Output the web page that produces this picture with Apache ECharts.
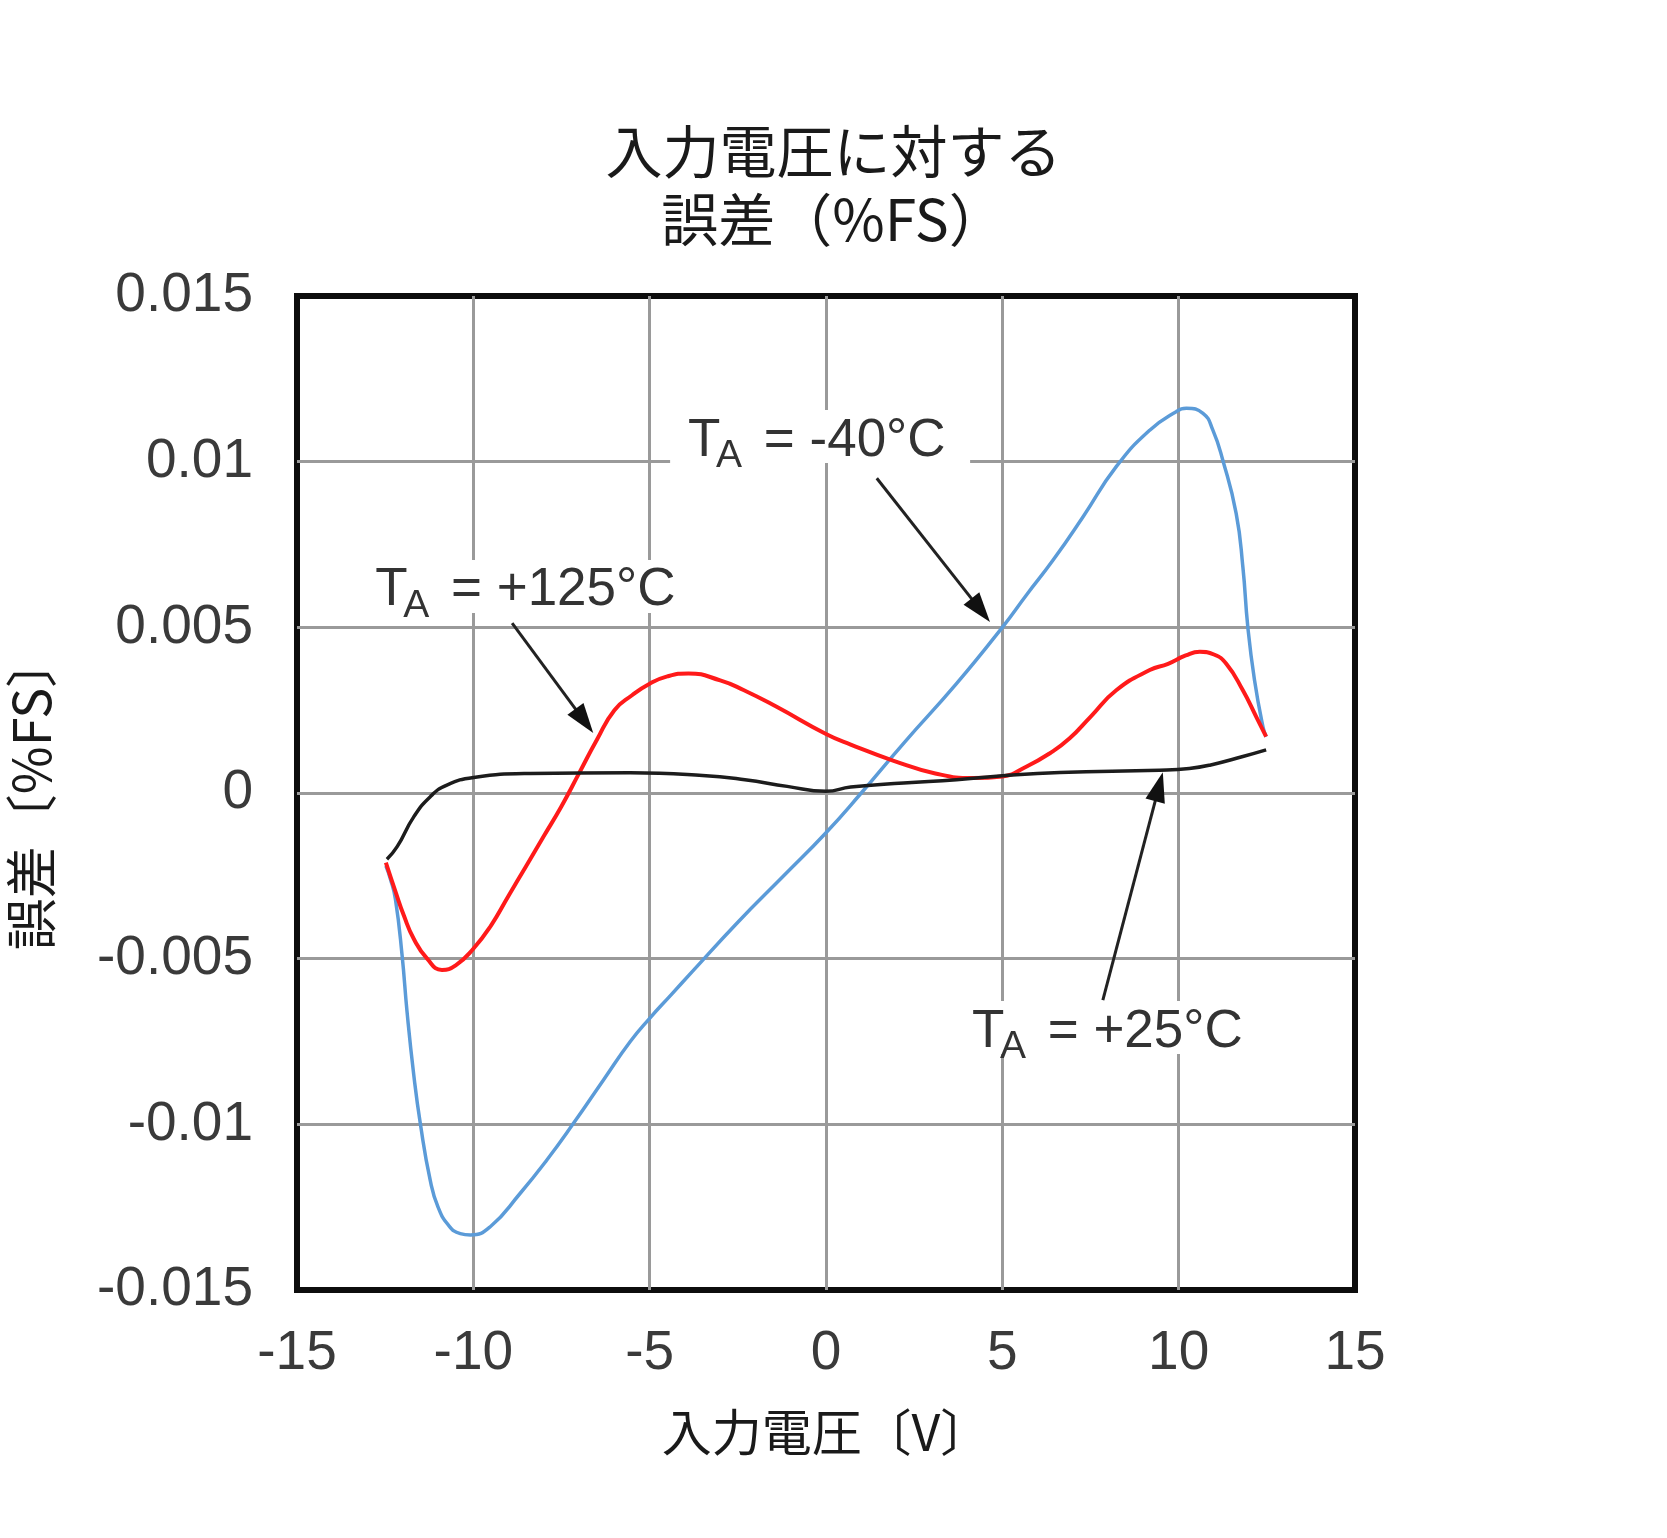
<!DOCTYPE html>
<html><head><meta charset="utf-8">
<script src="https://cdn.jsdelivr.net/npm/echarts@6/dist/echarts.min.js"></script>
<style>html,body{margin:0;padding:0;background:#fff}#c{width:1667px;height:1538px}</style>
</head><body><div id="c"></div>
<script>
// ---- data ----
const xTicks = [-15, -10, -5, 0, 5, 10, 15];
const yTicks = [-0.015, -0.01, -0.005, 0, 0.005, 0.01, 0.015];
const titleLines = ['入力電圧に対する', '誤差（%FS）'];
const xName = '入力電圧〔V〕';
const yName = '誤差〔%FS〕';

const ta_m40 = [
  [-12.48,-0.0022],[-12.35,-0.0026],[-12.21,-0.0032],[-12.02,-0.0049],[-11.88,-0.0066],
  [-11.69,-0.0085],[-11.5,-0.0100],[-11.22,-0.0117],[-11.0,-0.0125],[-10.7,-0.01305],
  [-10.37,-0.0133],[-10.08,-0.01334],[-9.52,-0.01309],[-8.67,-0.01208],[-7.91,-0.01107],
  [-7.16,-0.00997],[-6.31,-0.00866],[-5.55,-0.0075],[-5.0,-0.0068],[-4.4,-0.0061],
  [-3.8,-0.0054],[-2.5,-0.0039],[-1.2,-0.0025],[0,-0.0012],[1.0,0.0000],[2.2,0.0015],
  [3.7,0.0033],[5.0,0.0050],[5.7,0.0060],[6.44,0.00703],[7.29,0.00834],[8.23,0.00985],
  [9.18,0.01095],[9.93,0.01151],[10.22,0.01161],[10.69,0.01146],[10.97,0.01095],
  [11.25,0.01005],[11.63,0.00844],[11.82,0.00683],[11.96,0.00502],[12.15,0.00341],
  [12.39,0.0020],[12.48,0.0017]
];
const ta_125 = [
  [-12.48,-0.0021],[-12.2,-0.0030],[-11.97,-0.0037],[-11.69,-0.0044],[-11.31,-0.0050],
  [-10.89,-0.00534],[-10.5,-0.0052],[-10.0,-0.0047],[-9.5,-0.0040],[-9.0,-0.0031],
  [-8.5,-0.0022],[-8.0,-0.0013],[-7.5,-0.0004],[-7.0,0.0006],[-6.5,0.0016],[-6.0,0.0025],
  [-5.5,0.00295],[-5.0,0.0033],[-4.5,0.00352],[-3.9,0.00361],[-3.0,0.0034],[-2.34,0.00311],
  [-1.4,0.0026],[0,0.00178],[0.7,0.00146],[1.9,0.00098],[3.1,0.00059],[4.17,0.00045],
  [5.0,0.0005],[5.69,0.0008],[6.35,0.0012],[6.91,0.00165],[7.5,0.0023],[8.23,0.0031],
  [9.18,0.00371],[9.7,0.0039],[10.2,0.00415],[10.6,0.00426],[11.0,0.00418],[11.35,0.0039],
  [11.82,0.0031],[12.2,0.0023],[12.48,0.0017]
];
const ta_25 = [
  [-12.45,-0.0020],[-12.16,-0.00162],[-11.69,-0.00072],[-11.22,-0.00011],[-10.75,0.00024],
  [-9.99,0.00047],[-8.39,0.00059],[-5.55,0.00061],[-3.5,0.00053],[-2.3,0.0004],
  [-1.1,0.0002],[0,0.00005],[0.7,0.00018],[2.2,0.0003],[3.7,0.0004],[5.0,0.00052],
  [6.63,0.00062],[9.46,0.00069],[10.3,0.00074],[10.88,0.00084],[11.82,0.0011],[12.48,0.0013]
];
const annLabels = [' = -40°C', ' = +125°C', ' = +25°C'];
const annTextAt = [[-3.91, 0.01062], [-12.78, 0.0061], [4.14, -0.00721]];
const annArrowFrom = [[1.44, 0.0095], [-8.9, 0.00513], [7.85, -0.00625]];
const annArrowTo = [[4.65, 0.00516], [-6.6, 0.00181], [9.55, 0.00063]];

// ---- chart ----
const chart = echarts.init(document.getElementById('c'), null, {renderer: 'canvas'});
const tickFont = '"Liberation Sans", Arial, sans-serif';
const cjkFont = '"Noto Sans CJK JP", "Noto Sans", sans-serif';

const option = {
  animation: false,
  backgroundColor: '#ffffff',
  title: {
    text: titleLines.join('\n'),
    left: 'center',
    top: 112,
    textStyle: {fontFamily: cjkFont, fontSize: 57, fontWeight: 'normal', color: '#1a1a1a', lineHeight: 68}
  },
  grid: {left: 297, right: 312, top: 296, bottom: 248, containLabel: false, outerBoundsMode: 'none',
         show: true, borderColor: '#0d0d0d', borderWidth: 6, backgroundColor: 'transparent'},
  xAxis: {
    type: 'value', min: xTicks[0], max: xTicks[xTicks.length - 1], interval: 5,
    name: xName, nameLocation: 'middle', nameGap: 117,
    nameTextStyle: {fontFamily: cjkFont, fontSize: 50, color: '#1a1a1a'},
    axisLine: {show: false}, axisTick: {show: false},
    axisLabel: {fontFamily: tickFont, fontSize: 55, color: '#3a3a3a', margin: 36},
    splitLine: {show: true, showMinLine: false, showMaxLine: false, lineStyle: {color: '#9a9a9a', width: 3}}
  },
  yAxis: {
    type: 'value', min: yTicks[0], max: yTicks[yTicks.length - 1], interval: 0.005,
    name: yName, nameLocation: 'middle', nameGap: 240, nameRotate: 90,
    nameTextStyle: {fontFamily: cjkFont, fontSize: 52, color: '#1a1a1a'},
    axisLine: {show: false}, axisTick: {show: false},
    axisLabel: {fontFamily: tickFont, fontSize: 55, color: '#3a3a3a', margin: 44,
      formatter: v => String(+(+v).toFixed(3))},
    splitLine: {show: true, showMinLine: false, showMaxLine: false, lineStyle: {color: '#9a9a9a', width: 3}}
  },
  series: [
    {name: 'TA = -40°C', type: 'line', data: ta_m40, smooth: 0.5, showSymbol: false, z: 3,
     lineStyle: {color: '#5b9bd8', width: 3.5}},
    {name: 'TA = +125°C', type: 'line', data: ta_125, smooth: 0.5, showSymbol: false, z: 4,
     lineStyle: {color: '#ff1a1a', width: 4}},
    {name: 'TA = +25°C', type: 'line', data: ta_25, smooth: 0.5, showSymbol: false, z: 5,
     lineStyle: {color: '#1c1c1c', width: 3.5}}
  ]
};
chart.setOption(option);

// annotations positioned through the axes
const g = [];
const px = d => chart.convertToPixel({gridIndex: 0}, d);
annArrowFrom.forEach((f, i) => {
  const a = px(f), b = px(annArrowTo[i]);
  const dx = b[0] - a[0], dy = b[1] - a[1], len = Math.hypot(dx, dy);
  const ux = dx / len, uy = dy / len, nx = -uy, ny = ux;
  const L = 30, W = 10;
  const bx = b[0] - ux * L, by = b[1] - uy * L;
  g.push({type: 'line', z: 60, shape: {x1: a[0], y1: a[1], x2: bx + ux * 4, y2: by + uy * 4},
          style: {stroke: '#222', lineWidth: 3}});
  g.push({type: 'polygon', z: 60, shape: {points: [[b[0], b[1]], [bx + nx * W, by + ny * W], [bx - nx * W, by - ny * W]]},
          style: {fill: '#111'}});
});
annTextAt.forEach((d, i) => {
  const p = px(d);
  const x0 = p[0], y0 = p[1];
  const restW = [182, 224, 196][i];
  g.push({type: 'rect', z: 50, shape: {x: x0 - 18, y: y0 - 31, width: 76 + restW + 18 + 24, height: 53},
          style: {fill: '#fff'}});
  g.push({type: 'text', z: 51, x: x0, y: y0,
          style: {text: 'T', font: '53px "Liberation Sans", Arial, sans-serif', fill: '#333', verticalAlign: 'middle', align: 'left'}});
  g.push({type: 'text', z: 51, x: x0 + 28, y: y0 + 15,
          style: {text: 'A', font: '39px "Liberation Sans", Arial, sans-serif', fill: '#333', verticalAlign: 'middle', align: 'left'}});
  g.push({type: 'text', z: 51, x: x0 + 61, y: y0,
          style: {text: annLabels[i], font: '53px "Liberation Sans", Arial, sans-serif', fill: '#333', verticalAlign: 'middle', align: 'left'}});
});
chart.setOption({graphic: g});
</script>
</body></html>
